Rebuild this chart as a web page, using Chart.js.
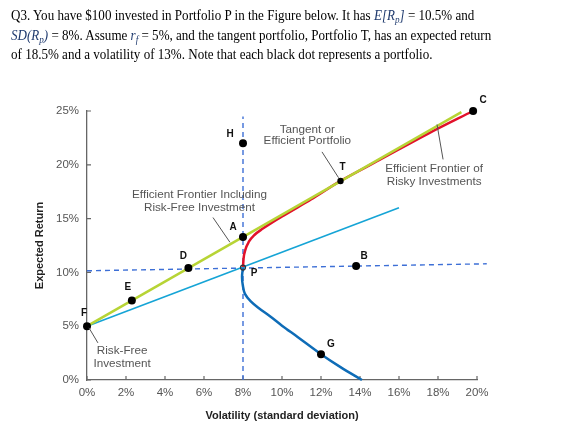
<!DOCTYPE html>
<html>
<head>
<meta charset="utf-8">
<script src="https://cdn.jsdelivr.net/npm/chart.js@4"></script>
<style>
  body { margin: 0; background: #fff; }
  #wrap { position: relative; width: 562px; height: 429px; }
  #chart { position: absolute; left: 0; top: 0; }
  #question {
    position: absolute; left: 11px; top: 6px;
    font-family: "Liberation Serif", "Times New Roman", serif;
    font-size: 14.5px; line-height: 19.5px; color: #000; white-space: nowrap;
    transform: scaleX(0.9); transform-origin: left top;
  }
  #question .m { font-style: italic; color: #1f3a6e; }
  #question sub { font-size: 70%; line-height: 0; vertical-align: -3px; }
</style>
</head>
<body>
<div id="wrap">
  <canvas id="chart" width="562" height="429"></canvas>
  <div id="question">
    Q3. You have $100 invested in Portfolio P in the Figure below. It has <span class="m">E[R<sub>p</sub>]</span> = 10.5% and<br>
    <span class="m">SD(R<sub>p</sub>)</span> = 8%. Assume <span class="m">r<sub>f</sub></span> = 5%, and the tangent portfolio, Portfolio T, has an expected return<br>
    of 18.5% and a volatility of 13%. Note that each black dot represents a portfolio.
  </div>
</div>
<script>
// axis ticks (percent)
const xTickStep = 2, xMax = 20;
const yTickStep = 5, yMax = 25;

// efficient frontier incl. risk-free (green line from F)
const cmlX = [0, 19.2];
const cmlY = [5, 24.9];

// combination of F and P (cyan)
const mixX = [0, 16];
const mixY = [5, 16];

// efficient frontier of risky investments (red, upper part)
const frontierX = [8.0, 8.03, 8.12, 8.3, 8.6, 9.0, 9.5, 10.1, 10.8, 11.6, 13.0, 15.0, 17.5, 19.8];
const frontierY = [10.5, 11.3, 12.1, 12.85, 13.5, 14.05, 14.65, 15.3, 16.05, 16.9, 18.5, 20.45, 22.9, 25.0];

// inefficient part (dark blue)
const lowerX = [8.0, 7.95, 7.99, 8.1, 8.4, 8.8, 9.4, 10.0, 10.8, 12.0, 13.0, 14.1];
const lowerY = [10.5, 9.6, 8.8, 8.0, 7.3, 6.7, 5.9, 5.05, 4.0, 2.4, 1.2, 0];

// dashed guides through P
const vGuideX = [8, 8];
const vGuideY = [0, 24.5];
const hGuideX = [0, 20.5];
const hGuideY = [10.15, 10.8];

// portfolios (black dots)
const dotNames = ["H", "A", "T", "C", "D", "E", "F", "B", "G"];
const dotX = [8, 8, 13, 19.8, 5.2, 2.3, 0, 13.8, 12];
const dotY = [22, 13.3, 18.5, 25, 10.4, 7.4, 5, 10.6, 2.4];
const pX = 8, pY = 10.45;

const toPts = (xs, ys) => xs.map((x, i) => ({ x: x, y: ys[i] }));

// where each letter goes, relative to its dot (px)
const letterOffset = {
  H: [-13, -9], A: [-10, -10], T: [2, -14], C: [10, -11], D: [-5, -12],
  E: [-4, -13], F: [-3, -13], B: [8, -10], G: [10, -10], P: [11, 6]
};

// callout texts: lines centred at (x, y[i]) in data units, leader from a to b
const callouts = [
  { lines: ["Tangent or", "Efficient Portfolio"], x: 11.3, y: [23.3, 22.2], a: [12.05, 21.2], b: [12.9, 18.8] },
  { lines: ["Efficient Frontier of", "Risky Investments"], x: 17.8, y: [19.65, 18.4], a: [18.26, 20.5], b: [17.95, 23.75] },
  { lines: ["Efficient Frontier Including", "Risk-Free Investment"], x: 5.77, y: [17.2, 16.0], a: [6.46, 15.1], b: [7.33, 12.8] },
  { lines: ["Risk-Free", "Investment"], x: 1.8, y: [2.7, 1.5], a: [0.1, 4.85], b: [0.56, 3.45] }
];

const FONT = "'Liberation Sans', Arial, sans-serif";

const extras = {
  id: "extras",
  beforeDatasetsDraw(chart) {
    // short inward tick marks
    const { ctx, scales: { x, y }, chartArea } = chart;
    ctx.save();
    ctx.strokeStyle = "#666";
    ctx.lineWidth = 1.2;
    ctx.beginPath();
    x.ticks.forEach((t) => {
      const px = x.getPixelForValue(t.value);
      ctx.moveTo(px, chartArea.bottom);
      ctx.lineTo(px, chartArea.bottom - 4);
    });
    y.ticks.forEach((t) => {
      const py = y.getPixelForValue(t.value);
      ctx.moveTo(chartArea.left, py);
      ctx.lineTo(chartArea.left + 4, py);
    });
    ctx.stroke();
    ctx.restore();
  },
  afterDatasetsDraw(chart) {
    const { ctx, scales: { x, y } } = chart;
    ctx.save();
    // callouts
    ctx.strokeStyle = "#555";
    ctx.lineWidth = 1;
    ctx.fillStyle = "#555";
    ctx.font = "11.7px " + FONT;
    ctx.textAlign = "center";
    ctx.textBaseline = "middle";
    callouts.forEach((c) => {
      c.lines.forEach((s, i) => ctx.fillText(s, x.getPixelForValue(c.x), y.getPixelForValue(c.y[i])));
      ctx.beginPath();
      ctx.moveTo(x.getPixelForValue(c.a[0]), y.getPixelForValue(c.a[1]));
      ctx.lineTo(x.getPixelForValue(c.b[0]), y.getPixelForValue(c.b[1]));
      ctx.stroke();
    });
    // letters
    ctx.fillStyle = "#111";
    ctx.font = "bold 10px " + FONT;
    dotNames.forEach((n, i) => {
      const o = letterOffset[n];
      ctx.fillText(n, x.getPixelForValue(dotX[i]) + o[0], y.getPixelForValue(dotY[i]) + o[1]);
    });
    const o = letterOffset.P;
    ctx.fillText("P", x.getPixelForValue(pX) + o[0], y.getPixelForValue(pY) + o[1]);
    ctx.restore();
  }
};

const lineDs = (pts, color, width, extra) => Object.assign({
  data: pts, showLine: true, borderColor: color, borderWidth: width,
  pointRadius: 0, fill: false, clip: false
}, extra || {});

new Chart(document.getElementById("chart"), {
  type: "scatter",
  data: {
    datasets: [
      {
        data: toPts(dotX, dotY),
        pointRadius: dotNames.map((n) => (n === "T" ? 3.2 : 4)),
        pointBackgroundColor: "#000", pointBorderColor: "#000", pointBorderWidth: 0,
        clip: false
      },
      {
        data: [{ x: pX, y: pY }],
        pointRadius: 2.5, pointBackgroundColor: "rgba(0,0,0,0)",
        pointBorderColor: "#333", pointBorderWidth: 1.2, clip: false
      },
      lineDs(toPts(cmlX, cmlY), "#b7d435", 2.5),
      lineDs(toPts(frontierX, frontierY), "#e2112b", 2.5, { cubicInterpolationMode: "monotone" }),
      lineDs(toPts(mixX, mixY), "#15a4d6", 1.6),
      lineDs(toPts(lowerX, lowerY), "#0e6cb7", 2.5, { tension: 0.35 }),
      lineDs(toPts(vGuideX, vGuideY), "#3d6fd6", 1.4, { borderDash: [5, 4] }),
      lineDs(toPts(hGuideX, hGuideY), "#3d6fd6", 1.4, { borderDash: [5, 4] })
    ]
  },
  options: {
    responsive: false,
    animation: false,
    layout: { padding: { left: 0, top: 111, right: 85, bottom: 0 } },
    plugins: { legend: { display: false }, tooltip: { enabled: false } },
    scales: {
      x: {
        type: "linear", min: 0, max: xMax,
        afterFit: (s) => { s.height = 49; },
        grid: { display: false, drawTicks: false },
        border: { display: true, color: "#666", width: 1.3 },
        ticks: {
          stepSize: xTickStep, padding: 6, color: "#555",
          font: { family: FONT, size: 11.5 },
          callback: (v) => v + "%"
        },
        title: {
          display: true, text: "Volatility (standard deviation)", color: "#222",
          font: { family: FONT, size: 11, weight: "bold" },
          padding: { top: 0, bottom: 6 }
        }
      },
      y: {
        type: "linear", min: 0, max: yMax,
        afterFit: (s) => { s.width = 87; },
        grid: { display: false, drawTicks: false },
        border: { display: true, color: "#666", width: 1.3 },
        ticks: {
          stepSize: yTickStep, padding: 8, color: "#555",
          font: { family: FONT, size: 11.5 },
          callback: (v) => v + "%"
        },
        title: {
          display: true, text: "Expected Return", color: "#222",
          font: { family: FONT, size: 11, weight: "bold" },
          padding: { top: 33, bottom: 0 }
        }
      }
    }
  },
  plugins: [extras]
});
</script>
</body>
</html>
